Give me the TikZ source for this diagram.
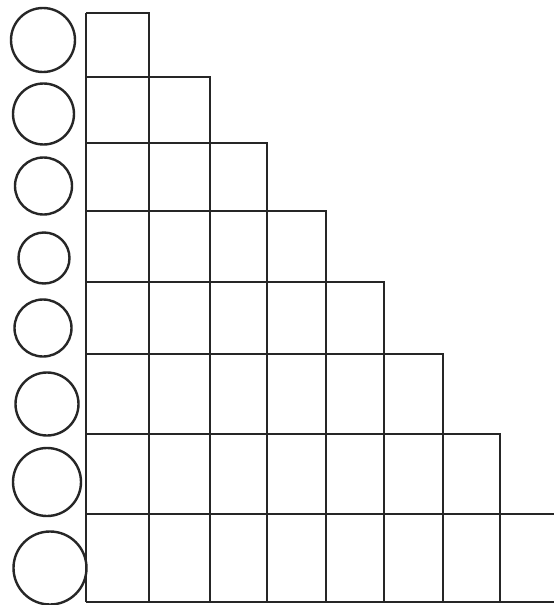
\documentclass[tikz,border=0pt]{standalone}
\begin{document}
\begin{tikzpicture}[x=1pt,y=-1pt,
  gridline/.style={line width=2.7pt,draw=black!85,line cap=square},
  ring/.style={line width=2.4pt,draw=black!85}]
\useasboundingbox (0,0) rectangle (554,605);
\fill[white] (0,0) rectangle (554,605);
% row tops and column edges
\def\ys{{13,77,143,211,282,354,434,514,602}}
\def\xs{{86,149,210,267,326,384,443,500,554}}
% rows 1..7
\foreach \i in {1,...,7}{
  \pgfmathsetmacro{\ytop}{\ys[\i-1]}
  \pgfmathsetmacro{\xr}{\xs[\i]}
  \draw[gridline] (86,\ytop) -- (\xr,\ytop) -- (\xr,602);
}
% bottom row (runs off the right edge)
\draw[gridline] (86,514) -- (554,514);
\draw[gridline] (86,602) -- (554,602);
% left edge
\draw[gridline] (86,13) -- (86,602);
% circles
\draw[ring] (43,40) circle (32);
\draw[ring] (43.5,114) circle (30.5);
\draw[ring] (43.5,186) circle (28.5);
\draw[ring] (44,258) circle (25.5);
\draw[ring] (43,328) circle (28.5);
\draw[ring] (47,404) circle (31.5);
\draw[ring] (47,482) circle (34);
\draw[ring] (50,568) circle (36.5);
\end{tikzpicture}
\end{document}
